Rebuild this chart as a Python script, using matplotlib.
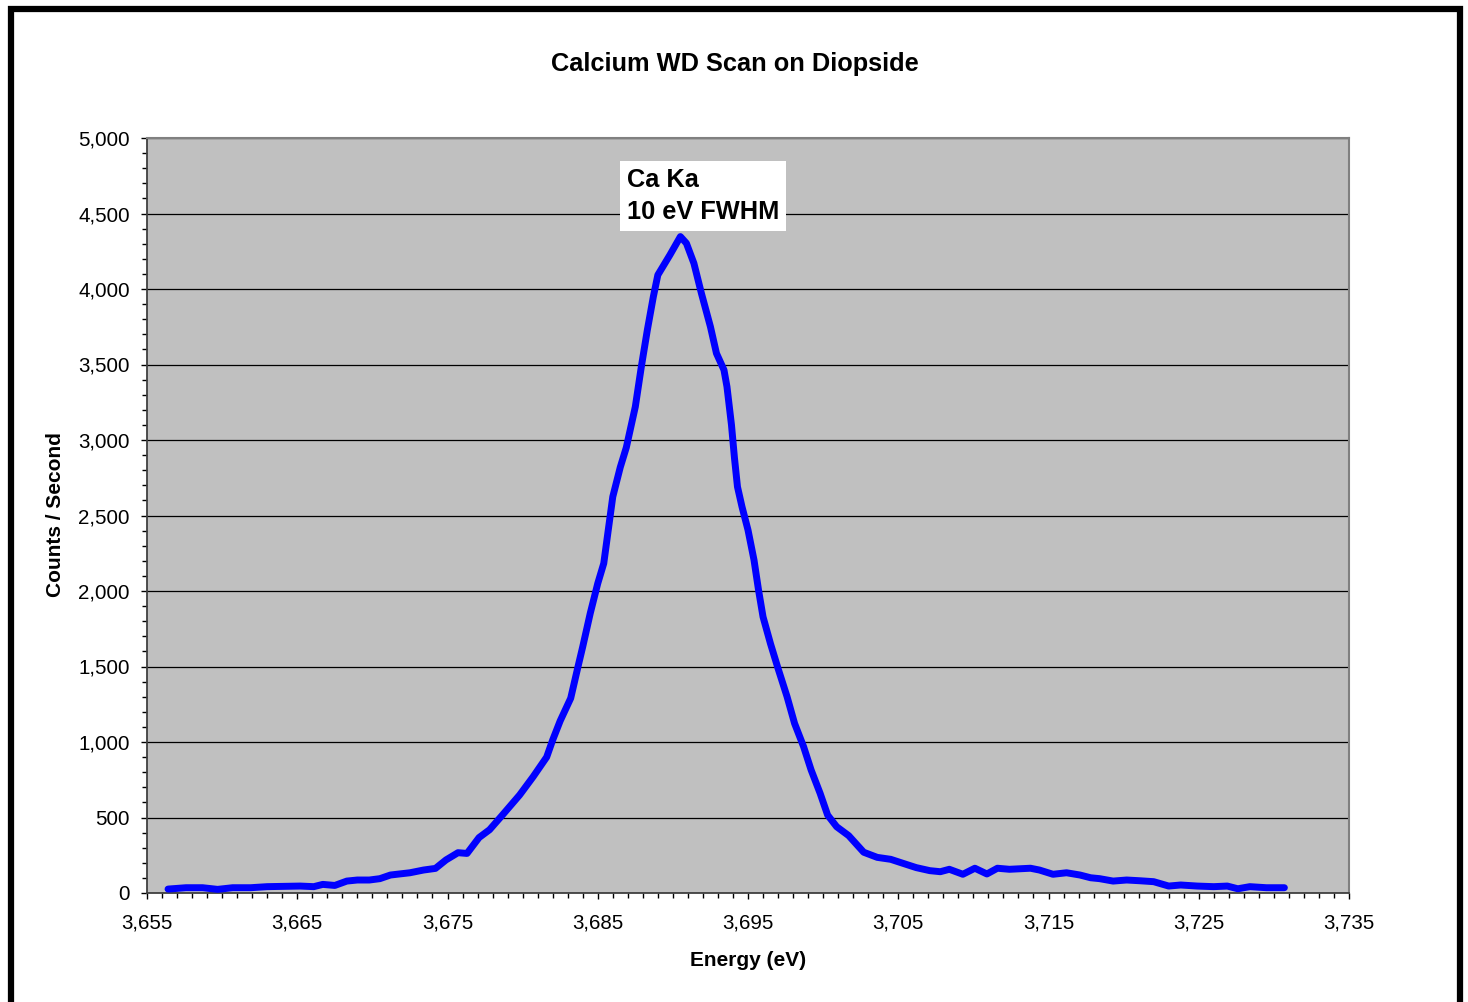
import numpy as np
import matplotlib
matplotlib.use('Agg')
import matplotlib.pyplot as plt
from matplotlib.ticker import MultipleLocator, FixedLocator, FuncFormatter
from matplotlib.lines import Line2D

plt.rcParams['font.family'] = ['Liberation Sans', 'DejaVu Sans']

# energy (eV) and counts/second
energy = [3656.4, 3657.6, 3658.7, 3659.7, 3660.7, 3661.9, 3663.0, 3664.1, 3665.2, 3666.1,
          3666.7, 3667.5, 3668.3, 3669.0, 3669.8, 3670.5, 3671.2, 3671.8, 3672.5, 3673.4,
          3674.2, 3674.9, 3675.7, 3676.3, 3677.1, 3677.8, 3678.6, 3679.8, 3680.7, 3681.6,
          3682.0, 3682.5, 3683.2, 3683.7, 3684.0, 3684.5, 3685.0, 3685.4, 3685.7, 3686.0,
          3686.5, 3686.9, 3687.5, 3687.9, 3688.3, 3688.7, 3689.0, 3689.4, 3689.8, 3690.5,
          3690.9, 3691.4, 3691.9, 3692.5, 3692.9, 3693.4, 3693.6, 3693.9, 3694.1, 3694.3,
          3694.6, 3695.0, 3695.4, 3695.7, 3696.0, 3696.5, 3697.0, 3697.6, 3698.1, 3698.7,
          3699.2, 3699.8, 3700.3, 3700.9, 3701.7, 3702.7, 3703.6, 3704.5, 3705.3, 3706.2,
          3707.1, 3707.8, 3708.4, 3709.3, 3710.1, 3710.9, 3711.6, 3712.4, 3713.8, 3714.4,
          3715.3, 3716.2, 3717.1, 3717.8, 3718.4, 3719.3, 3720.2, 3721.1, 3722.0, 3723.0,
          3723.8, 3724.9, 3726.0, 3726.9, 3727.6, 3728.4, 3729.5, 3730.7]
counts = [26, 35, 35, 24, 35, 35, 42, 44, 46, 42,
          57, 50, 79, 86, 86, 95, 119, 126, 134, 152,
          163, 219, 267, 262, 367, 419, 510, 649, 770, 900,
          1013, 1140, 1290, 1505, 1631, 1852, 2050, 2183, 2404, 2624,
          2820, 2950, 3220, 3485, 3728, 3949, 4093, 4159, 4225, 4347,
          4303, 4170, 3971, 3750, 3574, 3464, 3353, 3100, 2880, 2690,
          2558, 2404, 2205, 2007, 1829, 1650, 1487, 1300, 1123, 969,
          815, 660, 516, 439, 380, 270, 236, 223, 197, 168,
          148, 141, 157, 124, 164, 126, 164, 157, 164, 152,
          124, 134, 119, 101, 95, 79, 86, 81, 75, 46,
          53, 46, 42, 46, 28, 42, 35, 35]

x_ticks = [3655, 3665, 3675, 3685, 3695, 3705, 3715, 3725, 3735]

fig = plt.figure(figsize=(14.68, 10.02), dpi=100)
ax = fig.add_axes([147/1468, 1 - 893/1002, 1202/1468, 755/1002])
ax.set_facecolor('#C0C0C0')

ax.plot(energy, counts, color='#0000FF', lw=5, solid_capstyle='round',
        solid_joinstyle='round', zorder=3)

ax.set_xlim(3655, 3735)
ax.set_ylim(0, 5000)
ax.xaxis.set_major_locator(FixedLocator(x_ticks))
ax.xaxis.set_minor_locator(MultipleLocator(1))
ax.yaxis.set_major_locator(MultipleLocator(500))
ax.yaxis.set_minor_locator(MultipleLocator(100))
fmt = FuncFormatter(lambda v, p: f'{v:,.0f}')
ax.xaxis.set_major_formatter(fmt)
ax.yaxis.set_major_formatter(fmt)
ax.tick_params(which='major', direction='out', length=4.5, width=1, color='black',
               labelsize=14.8, pad=8)
ax.tick_params(which='minor', direction='out', length=3.5, width=1, color='black')
ax.tick_params(axis='x', which='major', pad=10.5)

ax.grid(axis='y', which='major', color='black', lw=0.9)
ax.set_axisbelow(True)

for s in ['left', 'bottom']:
    ax.spines[s].set_color('#404040')
    ax.spines[s].set_linewidth(1.3)
for s in ['top', 'right']:
    ax.spines[s].set_color('#808080')
    ax.spines[s].set_linewidth(1.5)

ax.text(3686.95, 4615, 'Ca Ka\n10 eV FWHM', fontsize=18.3, fontweight='bold',
        ha='left', va='center', zorder=4, linespacing=1.4,
        bbox=dict(facecolor='white', edgecolor='none', boxstyle='square,pad=0.27'))

fig.text(735/1468, 1 - 63.5/1002, 'Calcium WD Scan on Diopside', fontsize=18.3,
         fontweight='bold', ha='center', va='center')
fig.text(748/1468, 1 - 960/1002, 'Energy (eV)', fontsize=15,
         fontweight='bold', ha='center', va='center')
fig.text(56/1468, 1 - 515/1002, 'Counts / Second', fontsize=15,
         fontweight='bold', ha='center', va='center', rotation=90)

# black frame (top, left, right)
fig.add_artist(Line2D([11/1468, 11/1468, 1459.5/1468, 1459.5/1468],
                      [-0.05, 1 - 9/1002, 1 - 9/1002, -0.05],
                      color='black', lw=4.5, solid_joinstyle='miter'))

plt.savefig('out.png', dpi=100)
